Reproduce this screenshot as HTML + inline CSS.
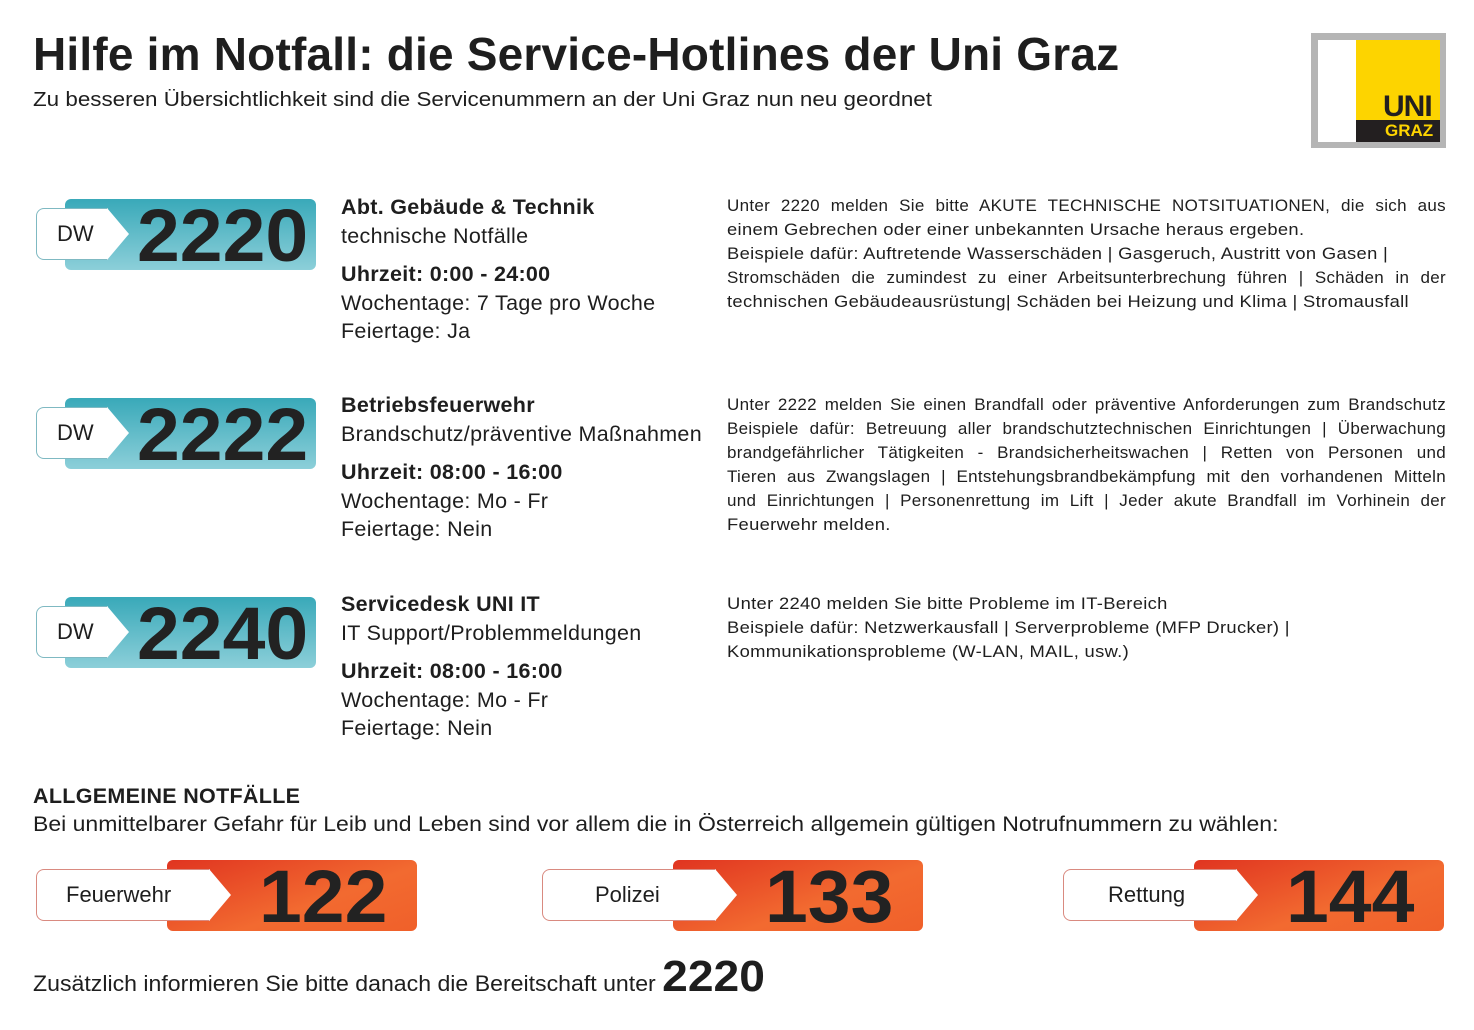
<!DOCTYPE html>
<html><head><meta charset="utf-8"><style>
*{margin:0;padding:0;box-sizing:border-box}
body{width:1474px;height:1030px;background:#fff;position:relative;overflow:hidden;font-family:"Liberation Sans",sans-serif;color:#1e1e1e}
.a{position:absolute;white-space:nowrap;transform-origin:left center}
.title{left:33px;top:27px;font-size:46px;font-weight:bold;letter-spacing:0.2px}
.sub{left:33px;top:89px;font-size:20px;transform:scaleX(1.12)}
.teal{position:absolute;width:251px;height:71px;border-radius:6px;background:linear-gradient(180deg,#39a9b9,#8ccfd9);}
.tag{position:absolute;height:52px;background:#fff;border:1px solid #7fb9c2;border-radius:8px 0 0 8px;font-size:22px;line-height:50px}
.tip{position:absolute;width:0;height:0;border-top:26px solid transparent;border-bottom:26px solid transparent;border-left:22px solid #fff}
.num{position:absolute;font-weight:bold;font-size:74px;line-height:73px;color:#222;transform:scaleX(1.04);transform-origin:left}
.red{position:absolute;width:250px;height:71px;border-radius:6px;background:linear-gradient(160deg,#e03420,#f26a30 60%,#f0602a);}
.mid{position:absolute;left:341px;font-size:21.5px;line-height:28.5px;letter-spacing:0.3px;white-space:nowrap}
.txt{position:absolute;left:727px;width:719px;font-size:17px;line-height:24px;letter-spacing:0.3px}
.txt div{white-space:nowrap}
.txt .s{transform:scaleX(1.08);transform-origin:left}
.txt .j{text-align:justify;text-align-last:justify;white-space:normal}
</style></head><body>
<div class="a title">Hilfe im Notfall: die Service-Hotlines der Uni Graz</div>
<div class="a sub">Zu besseren Übersichtlichkeit sind die Servicenummern an der Uni Graz nun neu geordnet</div>

<div style="position:absolute;left:1311px;top:33px;width:135px;height:115px;background:#b5b5b5"></div>
<div style="position:absolute;left:1318px;top:40px;width:38px;height:102px;background:#fff"></div>
<div style="position:absolute;left:1356px;top:40px;width:84px;height:102px;background:#fdd400"></div>
<div style="position:absolute;left:1356px;top:120px;width:84px;height:22px;background:#231f20"></div>
<div class="a" style="left:1383px;top:92px;font-size:30px;font-weight:bold;color:#231f20;letter-spacing:-1px;line-height:30px">UNI</div>
<div class="a" style="left:1385px;top:121px;font-size:17px;font-weight:bold;color:#fdd400;line-height:20px">GRAZ</div>

<div class="teal" style="left:65px;top:199px"></div>
<div class="tag" style="left:36px;top:208px;width:72px;padding-left:20px">DW</div><div class="tip" style="left:107px;top:208px"></div>
<div class="num" style="left:137px;top:199px">2220</div>

<div class="teal" style="left:65px;top:398px"></div>
<div class="tag" style="left:36px;top:407px;width:72px;padding-left:20px">DW</div><div class="tip" style="left:107px;top:407px"></div>
<div class="num" style="left:137px;top:398px">2222</div>

<div class="teal" style="left:65px;top:597px"></div>
<div class="tag" style="left:36px;top:606px;width:72px;padding-left:20px">DW</div><div class="tip" style="left:107px;top:606px"></div>
<div class="num" style="left:137px;top:597px">2240</div>

<div class="mid" style="top:193px"><b>Abt. Gebäude &amp; Technik</b><br>technische Notfälle<div style="height:10px"></div><b>Uhrzeit: 0:00 - 24:00</b><br>Wochentage: 7 Tage pro Woche<br>Feiertage: Ja</div>
<div class="mid" style="top:391px"><b>Betriebsfeuerwehr</b><br>Brandschutz/präventive Maßnahmen<div style="height:10px"></div><b>Uhrzeit: 08:00 - 16:00</b><br>Wochentage: Mo - Fr<br>Feiertage: Nein</div>
<div class="mid" style="top:590px"><b>Servicedesk UNI IT</b><br>IT Support/Problemmeldungen<div style="height:10px"></div><b>Uhrzeit: 08:00 - 16:00</b><br>Wochentage: Mo - Fr<br>Feiertage: Nein</div>

<div class="txt" style="top:194px">
<div class="j">Unter 2220 melden Sie bitte AKUTE TECHNISCHE NOTSITUATIONEN, die sich aus</div>
<div class="s">einem Gebrechen oder einer unbekannten Ursache heraus ergeben.</div>
<div class="s">Beispiele dafür: Auftretende Wasserschäden | Gasgeruch, Austritt von Gasen |</div>
<div class="j">Stromschäden die zumindest zu einer Arbeitsunterbrechung führen | Schäden in der</div>
<div class="s">technischen Gebäudeausrüstung| Schäden bei Heizung und Klima | Stromausfall</div>
</div>
<div class="txt" style="top:393px">
<div class="j">Unter 2222 melden Sie einen Brandfall oder präventive Anforderungen zum Brandschutz</div>
<div class="j">Beispiele dafür: Betreuung aller brandschutztechnischen Einrichtungen | Überwachung</div>
<div class="j">brandgefährlicher Tätigkeiten - Brandsicherheitswachen | Retten von Personen und</div>
<div class="j">Tieren aus Zwangslagen | Entstehungsbrandbekämpfung mit den vorhandenen Mitteln</div>
<div class="j">und Einrichtungen | Personenrettung im Lift | Jeder akute Brandfall im Vorhinein der</div>
<div class="s">Feuerwehr melden.</div>
</div>
<div class="txt" style="top:592px">
<div class="s">Unter 2240 melden Sie bitte Probleme im IT-Bereich</div>
<div class="s">Beispiele dafür: Netzwerkausfall | Serverprobleme (MFP Drucker) |</div>
<div class="s">Kommunikationsprobleme (W-LAN, MAIL, usw.)</div>
</div>

<div class="a" style="left:33px;top:784px;font-size:21.5px;font-weight:bold;letter-spacing:0.3px">ALLGEMEINE NOTFÄLLE</div>
<div class="a" style="left:33px;top:812px;font-size:21.5px;transform:scaleX(1.07)">Bei unmittelbarer Gefahr für Leib und Leben sind vor allem die in Österreich allgemein gültigen Notrufnummern zu wählen:</div>

<div class="red" style="left:167px;top:860px"></div>
<div class="tag" style="left:36px;top:869px;width:174px;padding-left:29px;border-color:#d98a80">Feuerwehr</div><div class="tip" style="left:209px;top:869px"></div>
<div class="num" style="left:259px;top:860px">122</div>

<div class="red" style="left:673px;top:860px"></div>
<div class="tag" style="left:542px;top:869px;width:174px;padding-left:52px;border-color:#d98a80">Polizei</div><div class="tip" style="left:715px;top:869px"></div>
<div class="num" style="left:765px;top:860px">133</div>

<div class="red" style="left:1194px;top:860px"></div>
<div class="tag" style="left:1063px;top:869px;width:174px;padding-left:44px;border-color:#d98a80">Rettung</div><div class="tip" style="left:1236px;top:869px"></div>
<div class="num" style="left:1286px;top:860px">144</div>

<div class="a" style="left:33px;top:954px;font-size:22px;line-height:46px;transform:scaleX(1.05)">Zusätzlich informieren Sie bitte danach die Bereitschaft unter <b style="font-size:44px">2220</b></div>
</body></html>
